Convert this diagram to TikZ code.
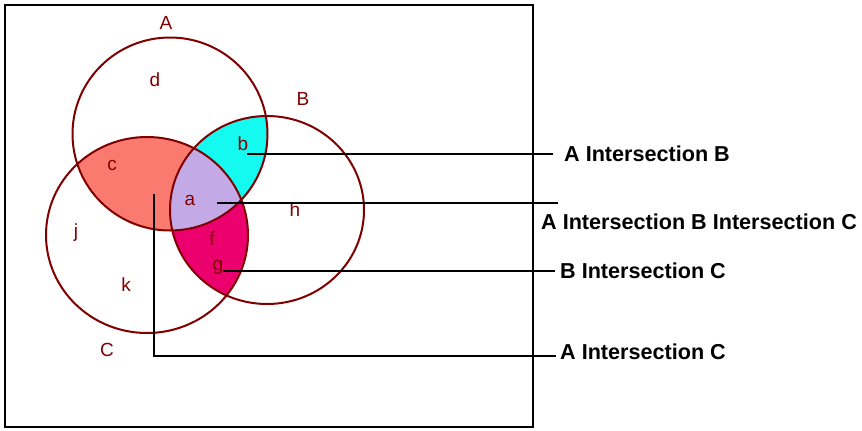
\documentclass[tikz,border=0pt]{standalone}
\usepackage{fontspec}
\setmainfont{Liberation Sans}
\usepackage{xcolor}
\usepackage{tikz}
\usetikzlibrary{positioning, calc}

\definecolor{setred}{RGB}{128,0,0}
\definecolor{regsalmon}{RGB}{250,122,112}
\definecolor{regcyan}{RGB}{20,250,240}
\definecolor{reglilac}{RGB}{195,170,230}
\definecolor{regpink}{RGB}{235,0,110}

\newcommand{\setApath}{(170,134) ellipse [x radius=97.5, y radius=96.5]}
\newcommand{\setBpath}{(267,210) ellipse [x radius=97, y radius=94]}
\newcommand{\setCpath}{(147,235) ellipse [x radius=101, y radius=98]}

\begin{document}
\begin{tikzpicture}[x=1pt, y=-1pt,
  setline/.style={draw=setred, line width=2pt},
  setname/.style={text=setred, font=\fontsize{19}{21}\selectfont, inner sep=0pt},
  caption/.style={font=\bfseries\fontsize{21.6}{24}\selectfont, anchor=west, inner sep=0pt},
  leader/.style={line width=2pt}]
  \useasboundingbox (0,0) rectangle (862,431);
  \draw[line width=2.4pt] (5,5) rectangle (533,427);

  % shaded regions
  \begin{scope}
    \clip \setApath;
    \fill[regsalmon] \setCpath;
  \end{scope}
  \begin{scope}
    \clip \setApath;
    \fill[regcyan] \setBpath;
  \end{scope}
  \begin{scope}
    \clip \setBpath;
    \fill[regpink] \setCpath;
  \end{scope}
  \begin{scope}
    \clip \setApath;
    \clip \setBpath;
    \fill[reglilac] \setCpath;
  \end{scope}

  % the three sets
  \draw[setline] \setApath;
  \draw[setline] \setBpath;
  \draw[setline] \setCpath;

  \node[setname] (nA) at (166,23) {A};
  \node[setname] (nB) at (303,99) {B};
  \node[setname] (nC) at (107,350) {C};

  \foreach \lbl/\px/\py in {d/155/80, b/243/144, c/112/165, a/190/200, h/295/210,
                            j/76/233, f/212/239, g/218/267, k/126/285}{
    \node[setname] (r\lbl) at (\px,\py) {\lbl};
  }

  % leaders and captions
  \coordinate (pAB) at (247,154);
  \coordinate (pABC) at (217,203);
  \coordinate (pBC) at (223,271);
  \coordinate (pAC) at (154,194);
  \coordinate (kAC) at (154,356);
  \coordinate (eAB) at (553,154);
  \coordinate (eABC) at (558,203);
  \coordinate (eBC) at (555,271);
  \coordinate (eAC) at (556,356);

  \node[caption, right=11pt of eAB] (tAB) {A Intersection B};
  \node[caption] (tABC) at (541,222) {A Intersection B Intersection C};
  \node[caption, right=5pt of eBC] (tBC) {B Intersection C};
  \node[caption, right=4pt of eAC, yshift=4pt] (tAC) {A Intersection C};

  \draw[leader] (pAB) -- (eAB);
  \draw[leader] (pABC) -- (eABC);
  \draw[leader] (pBC) -- (eBC);
  \draw[leader] (pAC) -- (kAC) -- (eAC);
\end{tikzpicture}
\end{document}
